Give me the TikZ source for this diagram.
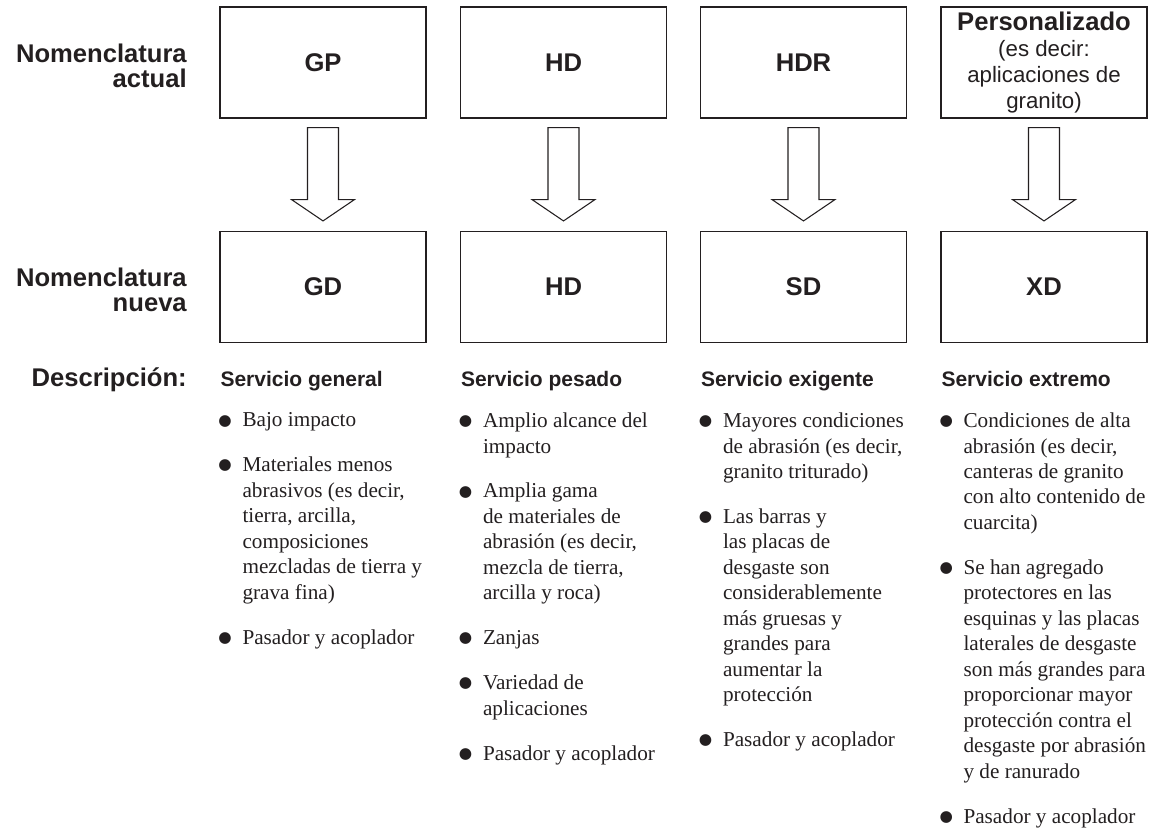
\documentclass[tikz,border=0pt]{standalone}
\usepackage{fontspec}
\setmainfont{Liberation Serif}
\setsansfont{Liberation Sans}
\newfontfamily\dotfont{DejaVu Sans}
\usetikzlibrary{calc}

\definecolor{ink}{RGB}{35,31,32}

% bullet hung to the left of an item
\newcommand\itm{\llap{{\dotfont\fontsize{11.5pt}{11pt}\selectfont\raisebox{1.4pt}{●}}\hspace{8pt}}}

\tikzset{
  namebox/.style={draw=ink,line width=1.1pt,minimum width=154.5pt,minimum height=83pt,
    inner sep=0pt,text=ink,font=\sffamily\bfseries\fontsize{19.2pt}{19pt}\selectfont},
  rowlabel/.style={inner sep=0pt,align=right,text=ink,
    font=\sffamily\bfseries\fontsize{19.2pt}{19pt}\selectfont},
  colhead/.style={anchor=base west,inner sep=0pt,text=ink,
    font=\sffamily\bfseries\fontsize{15.75pt}{18pt}\selectfont},
  points/.style={anchor=north west,inner sep=0pt,align=left,text=ink,
    font=\rmfamily\fontsize{15.9pt}{19.1pt}\selectfont},
  hollow/.style={draw=ink,line width=0.8pt,fill=white,line join=miter}
}

\begin{document}
\begin{tikzpicture}[x=0.75pt,y=-0.75pt]
  \useasboundingbox (0,0) rectangle (1159,837);

  % old and new names
  \node[namebox] (gp)  at (323,62.5)    {GP};
  \node[namebox] (hd)  at (563.5,62.5)  {HD};
  \node[namebox] (hdr) at (803.5,62.5)  {HDR};
  \node[namebox,align=center,font=\sffamily\fontsize{16.7pt}{19.5pt}\selectfont] (cus) at (1044,62.5)
    {{\bfseries\fontsize{19.2pt}{19.5pt}\selectfont Personalizado}\\(es decir:\\aplicaciones de\\granito)};
  \node[namebox] (gd)  at (323,287)     {GD};
  \node[namebox] (hdn) at (563.5,287)   {HD};
  \node[namebox] (sd)  at (803.5,287)   {SD};
  \node[namebox] (xd)  at (1044,287)    {XD};

  \node[rowlabel,anchor=east] (old) at (187,66) {Nomenclatura\\actual};
  \node[rowlabel,anchor=east] (new) at (187,290)  {Nomenclatura\\nueva};
  \node[rowlabel,anchor=base east] (desc) at (187,387) {Descripción:};

  % hollow arrows
  \foreach \a/\b in {gp/gd,hd/hdn,hdr/sd,cus/xd}
    \draw[hollow] ($(\a.south)+(-15.5,9)$) -- ($(\a.south)+(-15.5,81)$)
      -- ($(\a.south)+(-31.5,81)$) -- ($(\b.north)+(0,-10)$)
      -- ($(\a.south)+(31.5,81)$) -- ($(\a.south)+(15.5,81)$)
      -- ($(\a.south)+(15.5,9)$) -- cycle;

  % descriptions
  \node[colhead] (gdh) at ($(gd.south west)+(1,43)$)  {Servicio general};
  \node[colhead] (hdh) at ($(hdn.south west)+(1,43)$) {Servicio pesado};
  \node[colhead] (sdh) at ($(sd.south west)+(1,43)$)  {Servicio exigente};
  \node[colhead] (xdh) at ($(xd.south west)+(1,43)$)  {Servicio extremo};

  \node[points] (gdl) at ($(gd.south west)+(23,69.5)$) {%
    \itm Bajo impacto\\[14.6pt]
    \itm Materiales menos\\abrasivos (es decir,\\tierra, arcilla,\\composiciones\\mezcladas de tierra y\\grava fina)\\[14.6pt]
    \itm Pasador y acoplador};
  \node[points] (hdl) at ($(hdn.south west)+(23,69.5)$) {%
    \itm Amplio alcance del\\impacto\\[14.6pt]
    \itm Amplia gama\\de materiales de\\abrasión (es decir,\\mezcla de tierra,\\arcilla y roca)\\[14.6pt]
    \itm Zanjas\\[14.6pt]
    \itm Variedad de\\aplicaciones\\[14.6pt]
    \itm Pasador y acoplador};
  \node[points] (sdl) at ($(sd.south west)+(23,69.5)$) {%
    \itm Mayores condiciones\\de abrasión (es decir,\\granito triturado)\\[14.6pt]
    \itm Las barras y\\las placas de\\desgaste son\\considerablemente\\más gruesas y\\grandes para\\aumentar la\\protección\\[14.6pt]
    \itm Pasador y acoplador};
  \node[points] (xdl) at ($(xd.south west)+(23,69.5)$) {%
    \itm Condiciones de alta\\abrasión (es decir,\\canteras de granito\\con alto contenido de\\cuarcita)\\[14.6pt]
    \itm Se han agregado\\protectores en las\\esquinas y las placas\\laterales de desgaste\\son más grandes para\\proporcionar mayor\\protección contra el\\desgaste por abrasión\\y de ranurado\\[14.6pt]
    \itm Pasador y acoplador};
\end{tikzpicture}
\end{document}
